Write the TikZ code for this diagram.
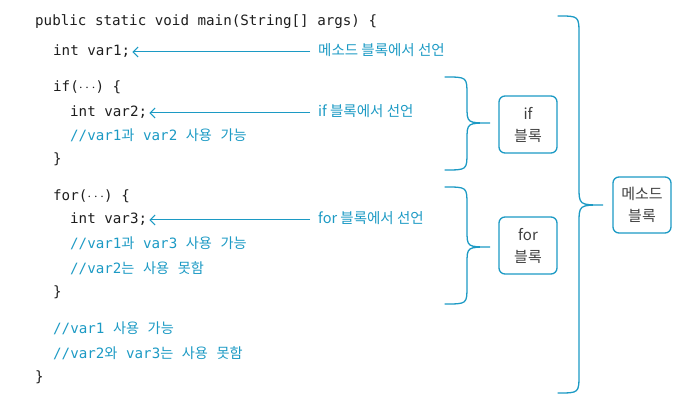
\documentclass[tikz,border=0pt]{standalone}
\usepackage{fontspec}
\usetikzlibrary{arrows.meta}
\setmonofont{DejaVu Sans Mono}
\newfontfamily\krfont{Noto Sans CJK KR}
\newcommand\krtext[1]{{\krfont #1}}
\definecolor{codeblue}{RGB}{28,154,196}
\definecolor{codeblack}{RGB}{30,30,30}
\begin{document}
\begin{tikzpicture}[x=1pt,y=-1pt,
  code/.style={anchor=west,inner sep=0pt,text height=10pt,text depth=3pt,
    font=\ttfamily\fontsize{14.2}{16}\selectfont,text=codeblack},
  comment/.style={code,text=codeblue},
  note/.style={anchor=west,inner sep=0pt,text height=10pt,text depth=3pt,
    font=\krfont\fontsize{14.5}{16}\selectfont,text=codeblue},
  arr/.style={-{Straight Barb[length=5pt,width=10pt]},codeblue,line width=1pt,shorten >=2pt},
  brace/.style={codeblue,line width=1.3pt,line cap=round},
  blockbox/.style={draw=codeblue,line width=1.3pt,rounded corners=6pt,
    minimum width=58pt,minimum height=57pt,align=center,text=codeblack!85,
    font=\krfont\fontsize{15}{22}\selectfont}]
\useasboundingbox (0,0) rectangle (683,406);
% code lines
\node[code] (main) at (35,22) {public static void main(String[] args) \{};
\node[code] (v1) at (53,52) {int var1;};
\node[code] (if) at (53,88) {if($\cdots$) \{};
\node[code] (v2) at (70,113) {int var2;};
\node[comment] (c1) at (70,137) {//var1\krtext{과} var2 \krtext{사용} \krtext{가능}};
\node[code] (ifend) at (53,160) {\}};
\node[code] (for) at (53,197) {for($\cdots$) \{};
\node[code] (v3) at (70,220) {int var3;};
\node[comment] (c2) at (70,245) {//var1\krtext{과} var3 \krtext{사용} \krtext{가능}};
\node[comment] (c3) at (70,270) {//var2\krtext{는} \krtext{사용} \krtext{못함}};
\node[code] (forend) at (53,293) {\}};
\node[comment] (c4) at (53,330) {//var1 \krtext{사용} \krtext{가능}};
\node[comment] (c5) at (53,355) {//var2\krtext{와} var3\krtext{는} \krtext{사용} \krtext{못함}};
\node[code] (mainend) at (35,378) {\}};
% declaration notes
\node[note] (n1) at (318,52) {메소드 블록에서 선언};
\node[note] (n2) at (318,113) {if 블록에서 선언};
\node[note] (n3) at (318,220) {for 블록에서 선언};
\draw[arr] (n1.west) ++(-8,0) -- (v1.east);
\draw[arr] (n2.west) ++(-8,0) -- (v2.east);
\draw[arr] (n3.west) ++(-8,0) -- (v3.east);
% braces
\draw[brace] (445,77) .. controls (467,77) .. (467,95) -- (467,106)
  .. controls (467,123) .. (490,123) .. controls (467,123) .. (467,140)
  -- (467,152) .. controls (467,170) .. (445,170);
\draw[brace] (445,187) .. controls (467,187) .. (467,205) -- (467,230)
  .. controls (467,247) .. (490,247) .. controls (467,247) .. (467,264)
  -- (467,286) .. controls (467,304) .. (445,304);
\draw[brace] (558,16) .. controls (579,16) .. (579,35) -- (579,186)
  .. controls (579,205) .. (603,205) .. controls (579,205) .. (579,224)
  -- (579,374) .. controls (579,393) .. (558,393);
% blocks
\node[blockbox] (ifblock) at (528,124.5) {if\\블록};
\node[blockbox] (forblock) at (528,245.5) {for\\블록};
\node[blockbox,minimum height=56pt] (methodblock) at (642,205) {메소드\\블록};
\end{tikzpicture}
\end{document}
